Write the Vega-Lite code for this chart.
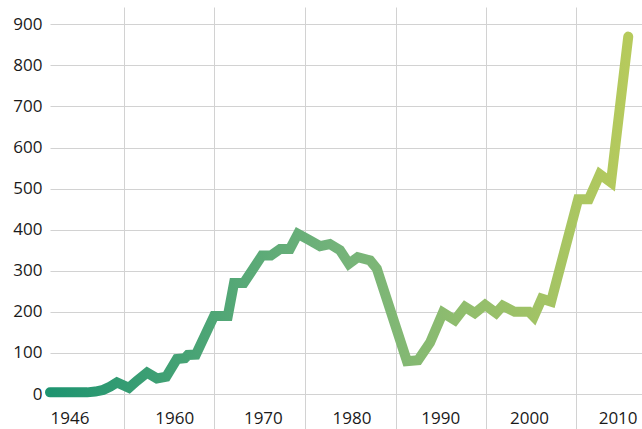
{
  "$schema": "https://vega.github.io/schema/vega-lite/v6.json",
  "width": 592,
  "height": 422,
  "autosize": {"type": "none"},
  "padding": {"left": 50, "top": 7, "right": 0, "bottom": 0},
  "background": "white",
  "config": {
    "view": {"stroke": null},
    "axis": {
      "labelFont": "Open Sans",
      "labelFontSize": 17,
      "labelColor": "#1a1a1a",
      "domain": false,
      "ticks": false,
      "gridColor": "#d2d2d2",
      "gridWidth": 1,
      "title": null
    }
  },
  "data": {
    "values": [
      {"year": 1946.0, "value": 4},
      {"year": 1950.2, "value": 4},
      {"year": 1951.1, "value": 6},
      {"year": 1952.0, "value": 10},
      {"year": 1952.8, "value": 18},
      {"year": 1953.55, "value": 28},
      {"year": 1954.9, "value": 15},
      {"year": 1955.8, "value": 32},
      {"year": 1956.95, "value": 52},
      {"year": 1958.05, "value": 38},
      {"year": 1959.1, "value": 42},
      {"year": 1960.3, "value": 85},
      {"year": 1961.2, "value": 87},
      {"year": 1961.55, "value": 95},
      {"year": 1962.45, "value": 96},
      {"year": 1964.5, "value": 190},
      {"year": 1966.05, "value": 190},
      {"year": 1966.75, "value": 270},
      {"year": 1967.85, "value": 270},
      {"year": 1969.9, "value": 337},
      {"year": 1970.9, "value": 337},
      {"year": 1971.95, "value": 353},
      {"year": 1973.05, "value": 353},
      {"year": 1973.95, "value": 390},
      {"year": 1975.2, "value": 375},
      {"year": 1976.45, "value": 360},
      {"year": 1977.55, "value": 365},
      {"year": 1978.7, "value": 350},
      {"year": 1979.7, "value": 317},
      {"year": 1980.7, "value": 333},
      {"year": 1982.1, "value": 325},
      {"year": 1982.85, "value": 305},
      {"year": 1986.25, "value": 80},
      {"year": 1987.5, "value": 82},
      {"year": 1988.85, "value": 125},
      {"year": 1990.3, "value": 198},
      {"year": 1991.65, "value": 180},
      {"year": 1992.8, "value": 212},
      {"year": 1993.9, "value": 197},
      {"year": 1995.05, "value": 217},
      {"year": 1996.3, "value": 197},
      {"year": 1997.05, "value": 215},
      {"year": 1998.4, "value": 200},
      {"year": 2000.0, "value": 200},
      {"year": 2000.55, "value": 188},
      {"year": 2001.45, "value": 232},
      {"year": 2002.5, "value": 225},
      {"year": 2005.55, "value": 474},
      {"year": 2006.75, "value": 474},
      {"year": 2008.0, "value": 535},
      {"year": 2009.25, "value": 515},
      {"year": 2011.2, "value": 870}
    ]
  },
  "mark": {
    "type": "line",
    "strokeWidth": 10,
    "strokeCap": "round",
    "strokeJoin": "miter",
    "stroke": {
      "gradient": "linear",
      "x1": 0, "y1": 0, "x2": 1, "y2": 0,
      "stops": [
        {"offset": 0, "color": "#1e9470"},
        {"offset": 0.5, "color": "#74b37a"},
        {"offset": 1, "color": "#b6ca5c"}
      ]
    }
  },
  "encoding": {
    "x": {
      "field": "year",
      "type": "quantitative",
      "scale": {"domain": [1946, 2012.75], "nice": false, "zero": false},
      "axis": {
        "values": [1946, 1954.4, 1960, 1964.5, 1970, 1974.75, 1980, 1985.01, 1990, 1995.2, 2000, 2005.35, 2010],
        "format": "d",
        "labelExpr": "datum.value % 1 == 0 ? datum.label : ''",
        "labelFlush": true,
        "labelOverlap": false,
        "labelBaseline": "alphabetic",
        "labelPadding": -6,
        "grid": true,
        "gridOpacity": {"condition": {"test": "datum.value % 1 != 0", "value": 1}, "value": 0}
      }
    },
    "y": {
      "field": "value",
      "type": "quantitative",
      "scale": {"domain": [-85.2, 942.1], "nice": false, "zero": false},
      "axis": {
        "values": [0, 100, 200, 300, 400, 500, 600, 700, 800, 900],
        "labelPadding": 8,
        "grid": true
      }
    }
  }
}
